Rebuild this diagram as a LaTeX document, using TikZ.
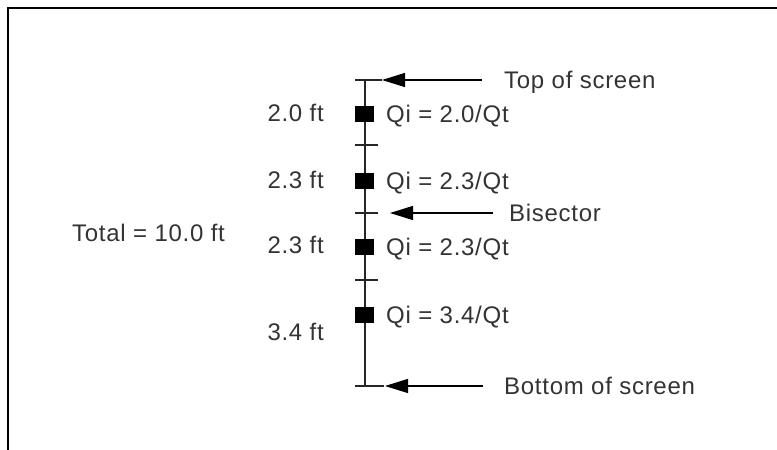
\documentclass[tikz,border=0pt]{standalone}
\usepackage{fontspec}
\setmainfont{Liberation Sans}[LetterSpace=3]
\usetikzlibrary{arrows.meta,positioning}
\tikzset{
  frame/.style={line width=2pt,black},
  axis/.style={black!85,line width=1.2pt},
  block/.style={fill=black,minimum width=19pt,minimum height=16pt,inner sep=0pt},
  lbl/.style={text=black!80,font=\fontsize{24}{28}\selectfont,inner sep=0pt},
  pointer/.style={-{Triangle[length=23pt,width=14pt]},black,line width=1.2pt}
}

\begin{document}
\begin{tikzpicture}[x=1pt,y=-1pt]
\useasboundingbox (0,0) rectangle (777,450);
\draw[frame] (8,450)--(8,8)--(777,8);
\coordinate (axtop) at (365,80);
\coordinate (axbot) at (365,386);
\draw[axis] (axtop)--(axbot);
\foreach \y/\r in {80/382,145/378,213/378,280/378,386/384}
  \draw[axis] (355,\y)--(\r,\y);
\foreach \n/\y/\v in {1/114/2.0,2/181/2.3,3/247/2.3,4/315/3.4}{
  \node[block] (b\n) at (364,\y) {};
  \node[lbl,anchor=base west] (q\n) at (386,\y+8) {Qi = \v/Qt};
}
\node[lbl,anchor=base east] (h1) at (324,121) {2.0 ft};
\node[lbl,anchor=base east] (h2) at (324,188) {2.3 ft};
\node[lbl,anchor=base east] (h3) at (324,253) {2.3 ft};
\node[lbl,anchor=base east] (h4) at (324,340) {3.4 ft};
\node[lbl,anchor=base west] (total) at (72,241) {Total = 10.0 ft};
\node[lbl,anchor=base west] (topscr) at (504,88) {Top of screen};
\node[lbl,anchor=base west] (bisect) at (509,221) {Bisector};
\node[lbl,anchor=base west] (botscr) at (504,394) {Bottom of screen};
\coordinate (toptip) at (382,80);
\coordinate (bistip) at (390,213);
\coordinate (bottip) at (385,386);
\draw[pointer] (482,80) -- (toptip);
\draw[pointer] (493,213) -- (bistip);
\draw[pointer] (483,386) -- (bottip);
\end{tikzpicture}
\end{document}
